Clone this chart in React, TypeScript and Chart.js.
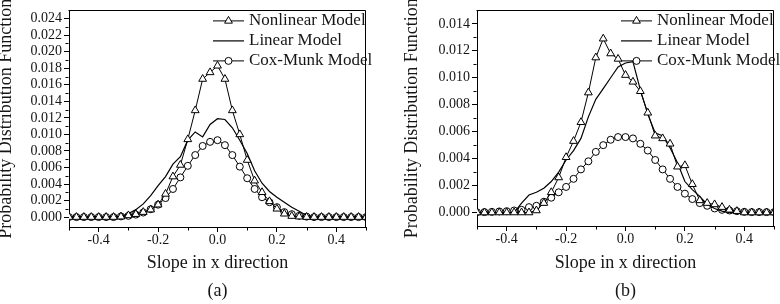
import React, { useEffect, useRef } from 'react';
import { Chart, registerables } from 'chart.js';

Chart.register(...registerables);

// ---------- data ----------
const slopes = [
  -0.5, -0.475, -0.45, -0.425, -0.4, -0.375, -0.35, -0.325, -0.3, -0.275,
  -0.25, -0.225, -0.2, -0.175, -0.15, -0.125, -0.1, -0.075, -0.05, -0.025,
  0, 0.025, 0.05, 0.075, 0.1, 0.125, 0.15, 0.175, 0.2, 0.225,
  0.25, 0.275, 0.3, 0.325, 0.35, 0.375, 0.4, 0.425, 0.45, 0.475, 0.5,
];

const seriesNames = ['Nonlinear Model', 'Linear Model', 'Cox-Munk Model'];

// panel (a)
const nonlinearA = [
  0, 0, 0, 0, 0, 0, 0, 0.00005, 0.0002, 0.00035,
  0.0006, 0.0009, 0.0015, 0.0028, 0.0049, 0.0063, 0.0094, 0.0129, 0.0167, 0.0175,
  0.0183, 0.0167, 0.0129, 0.0100, 0.0069, 0.0044, 0.0030, 0.0019, 0.0010, 0.0004,
  0.00012, 0.00005, 0, 0, 0, 0, 0, 0, 0, 0, 0,
];
const linearA = [
  0, 0, 0, 0, 0, 0, 0, 0.0001, 0.0004, 0.0009,
  0.0016, 0.0026, 0.0038, 0.0049, 0.0064, 0.0073, 0.0093, 0.0103, 0.0097, 0.0112,
  0.0119, 0.0118, 0.0108, 0.0093, 0.0077, 0.0056, 0.0041, 0.0031, 0.0024, 0.0018,
  0.0012, 0.0007, 0.0002, 0.00005, 0, 0, 0, 0, 0, 0, 0,
];
const coxMunkA = [
  0, 0, 0, 0, 0, 0, 0, 0.00008, 0.00015, 0.0003,
  0.00055, 0.00095, 0.0015, 0.0023, 0.0034, 0.0048, 0.0062, 0.0075, 0.0086, 0.0091,
  0.0093, 0.0087, 0.0075, 0.0061, 0.0047, 0.0034, 0.0024, 0.0018, 0.0012, 0.0006,
  0.00035, 0.00015, 0.00005, 0, 0, 0, 0, 0, 0, 0, 0,
];

// panel (b)
const nonlinearB = [
  0, 0, 0, 0, 0, 0, 0, 0, 0.00015, 0.0007,
  0.0015, 0.0026, 0.0041, 0.0053, 0.0067, 0.0089, 0.0115, 0.0129, 0.0118, 0.0114,
  0.0102, 0.0097, 0.0090, 0.0074, 0.0057, 0.0055, 0.0051, 0.0034, 0.0035, 0.0021,
  0.0009, 0.0007, 0.0006, 0.0004, 0.0002, 0.0001, 0, 0, 0, 0, 0,
];
const linearB = [
  0, 0, 0, 0, 0, 0, 0.0007, 0.0013, 0.0015, 0.0018,
  0.0023, 0.0030, 0.0039, 0.0046, 0.0055, 0.0071, 0.0084, 0.0092, 0.0100, 0.0108,
  0.0111, 0.0112, 0.0091, 0.0073, 0.0059, 0.0057, 0.0048, 0.0037, 0.0023, 0.0017,
  0.0012, 0.0006, 0.0003, 0.0001, 0, 0, 0, 0, 0, 0, 0,
];
const coxMunkB = [
  0.00002, 0.00003, 0.00005, 0.00008, 0.0001, 0.00015, 0.0002, 0.0004, 0.0005, 0.0008,
  0.0011, 0.0015, 0.0019, 0.0025, 0.0032, 0.0038, 0.0045, 0.0050, 0.0054, 0.0056,
  0.0056, 0.0055, 0.0051, 0.0046, 0.0039, 0.0032, 0.0025, 0.0019, 0.0014, 0.0010,
  0.0007, 0.0005, 0.0003, 0.0002, 0.00015, 0.0001, 0.00005, 0.00003, 0.00003, 0.00003, 0.00003,
];

// ticks
const xTickValues = [-0.4, -0.2, 0, 0.2, 0.4];
const xMinorTicks = [-0.5, -0.3, -0.1, 0.1, 0.3, 0.5];
const yTickValuesA = [0, 0.002, 0.004, 0.006, 0.008, 0.01, 0.012, 0.014, 0.016, 0.018, 0.02, 0.022, 0.024];
const yMinorTicksA = [0.001, 0.003, 0.005, 0.007, 0.009, 0.011, 0.013, 0.015, 0.017, 0.019, 0.021, 0.023];
const yTickValuesB = [0, 0.002, 0.004, 0.006, 0.008, 0.01, 0.012, 0.014];
const yMinorTicksB = [0.001, 0.003, 0.005, 0.007, 0.009, 0.011, 0.013];

const xTitle = 'Slope in x direction';
const yTitle = 'Probability Distribution Function';

const FONT = "'Liberation Serif', 'Times New Roman', serif";
const INK = '#151515';

type Panel = {
  nonlinear: number[];
  linear: number[];
  cox: number[];
  yTicks: number[];
  yMinor: number[];
  yMin: number;
  yMax: number;
  caption: string;
  yAxisWidth: number;
  rightPad: number;
  xAxisHeight: number;
  yTitlePad: number;
};

const panelA: Panel = {
  nonlinear: nonlinearA, linear: linearA, cox: coxMunkA,
  yTicks: yTickValuesA, yMinor: yMinorTicksA, yMin: -0.0012, yMax: 0.025,
  caption: '(a)', yAxisWidth: 69, rightPad: 24, xAxisHeight: 50, yTitlePad: -3.1,
};
const panelB: Panel = {
  nonlinear: nonlinearB, linear: linearB, cox: coxMunkB,
  yTicks: yTickValuesB, yMinor: yMinorTicksB, yMin: -0.001, yMax: 0.015,
  caption: '(b)', yAxisWidth: 87, rightPad: 6, xAxisHeight: 51, yTitlePad: 12.9,
};

function drawMarker(ctx: CanvasRenderingContext2D, style: string, x: number, y: number, r: number) {
  if (!r) return;
  ctx.beginPath();
  if (style === 'triangle') {
    let rad = 0;
    ctx.moveTo(x + Math.sin(rad) * r, y - Math.cos(rad) * r);
    rad += (2 * Math.PI) / 3;
    ctx.lineTo(x + Math.sin(rad) * r, y - Math.cos(rad) * r);
    rad += (2 * Math.PI) / 3;
    ctx.lineTo(x + Math.sin(rad) * r, y - Math.cos(rad) * r);
    ctx.closePath();
  } else {
    ctx.arc(x, y, r, 0, Math.PI * 2);
  }
  ctx.fillStyle = '#fff';
  ctx.fill();
  ctx.stroke();
}

const makeDecor = (panel: Panel) => ({
  id: 'decor',
  afterDraw(chart: any) {
    const ctx: CanvasRenderingContext2D = chart.ctx;
    const { left, right, top, bottom } = chart.chartArea;
    const xs = chart.scales.x;
    const ys = chart.scales.y;
    ctx.save();
    ctx.strokeStyle = '#000';
    ctx.lineWidth = 1;
    // top and right frame
    const t = Math.round(top) + 0.5;
    const r = Math.round(right) - 0.5;
    const b = Math.round(bottom) + 0.5;
    const l = Math.round(left) - 0.5;
    ctx.beginPath();
    ctx.moveTo(l, t);
    ctx.lineTo(r, t);
    ctx.lineTo(r, b);
    ctx.stroke();
    // minor ticks
    ctx.beginPath();
    xMinorTicks.forEach((v) => {
      const px = Math.round(xs.getPixelForValue(v)) + 0.5;
      ctx.moveTo(px, b);
      ctx.lineTo(px, b + 3);
    });
    panel.yMinor.forEach((v) => {
      const py = Math.round(ys.getPixelForValue(v)) + 0.5;
      ctx.moveTo(l, py);
      ctx.lineTo(l - 3, py);
    });
    ctx.stroke();
    // legend
    const x0 = right - 153;
    const x1 = right - 122;
    const tx = right - 117;
    ctx.font = `17px ${FONT}`;
    ctx.textBaseline = 'middle';
    ctx.textAlign = 'left';
    chart.data.datasets.forEach((ds: any, i: number) => {
      const y = top + 10 + i * 20;
      ctx.strokeStyle = '#000';
      ctx.lineWidth = ds.borderWidth || 1;
      ctx.beginPath();
      ctx.moveTo(x0, y + 0.5);
      ctx.lineTo(x1, y + 0.5);
      ctx.stroke();
      ctx.lineWidth = 1;
      drawMarker(ctx, ds.pointStyle, (x0 + x1) / 2, y + 0.5, ds.pointRadius);
      ctx.fillStyle = INK;
      ctx.fillText(ds.label, tx, y);
    });
    // caption
    ctx.textAlign = 'center';
    ctx.fillStyle = INK;
    ctx.font = `18px ${FONT}`;
    ctx.fillText(panel.caption, (left + right) / 2, 291);
    ctx.restore();
  },
});

function PanelChart({ panel, offsetLeft }: { panel: Panel; offsetLeft: number }) {
  const ref = useRef<HTMLCanvasElement | null>(null);
  useEffect(() => {
    if (!ref.current) return;
    const toPts = (arr: number[]) => slopes.map((x, i) => ({ x, y: arr[i] }));
    const chart = new Chart(ref.current, {
      type: 'line',
      data: {
        datasets: [
          {
            label: seriesNames[0],
            data: toPts(panel.nonlinear),
            borderColor: '#000',
            borderWidth: 1,
            pointStyle: 'triangle',
            pointRadius: 4.5,
            pointBorderWidth: 1,
            pointBorderColor: '#000',
            pointBackgroundColor: '#fff',
            tension: 0,
          },
          {
            label: seriesNames[1],
            data: toPts(panel.linear),
            borderColor: '#000',
            borderWidth: 1.2,
            pointRadius: 0,
            tension: 0,
          },
          {
            label: seriesNames[2],
            data: toPts(panel.cox),
            borderColor: '#000',
            borderWidth: 1,
            pointStyle: 'circle',
            pointRadius: 3.5,
            pointBorderWidth: 1,
            pointBorderColor: '#000',
            pointBackgroundColor: '#fff',
            tension: 0,
          },
        ] as any,
      },
      options: {
        animation: false,
        responsive: false,
        devicePixelRatio: 1,
        events: [],
        layout: { padding: { left: 0, right: panel.rightPad, top: 5, bottom: 27 } },
        plugins: {
          legend: { display: false },
          tooltip: { enabled: false },
        },
        scales: {
          x: {
            type: 'linear',
            min: -0.5,
            max: 0.5,
            afterBuildTicks: (scale: any) => {
              scale.ticks = xTickValues.map((v) => ({ value: v }));
            },
            afterFit: (scale: any) => {
              scale.height = panel.xAxisHeight;
            },
            ticks: {
              color: INK,
              font: { family: FONT, size: 14 },
              padding: 0,
              maxRotation: 0,
              autoSkip: false,
              callback: (v: any) => Number(v).toFixed(1),
            },
            grid: {
              display: true,
              drawOnChartArea: false,
              drawTicks: true,
              tickLength: 5,
              tickColor: '#000',
              tickWidth: 1,
            },
            border: { display: true, color: '#000', width: 1 },
            title: {
              display: true,
              text: xTitle,
              color: INK,
              font: { family: FONT, size: 18, lineHeight: 1 },
              padding: { top: 0, bottom: 5 },
            },
          },
          y: {
            type: 'linear',
            min: panel.yMin,
            max: panel.yMax,
            afterBuildTicks: (scale: any) => {
              scale.ticks = panel.yTicks.map((v) => ({ value: v }));
            },
            afterFit: (scale: any) => {
              scale.width = panel.yAxisWidth;
            },
            ticks: {
              color: INK,
              font: { family: FONT, size: 14 },
              padding: 2,
              autoSkip: false,
              callback: (v: any) => Number(v).toFixed(3),
            },
            grid: {
              display: true,
              drawOnChartArea: false,
              drawTicks: true,
              tickLength: 5,
              tickColor: '#000',
              tickWidth: 1,
            },
            border: { display: true, color: '#000', width: 1 },
            title: {
              display: true,
              text: yTitle,
              color: INK,
              font: { family: FONT, size: 18, lineHeight: 1 },
              padding: { top: panel.yTitlePad, bottom: 0 },
            },
          },
        },
      } as any,
      plugins: [makeDecor(panel)],
    });
    return () => chart.destroy();
  }, [panel]);
  return (
    <div style={{ position: 'absolute', left: offsetLeft, top: 0, width: 390, height: 304 }}>
      <canvas ref={ref} width={390} height={304} style={{ display: 'block', width: 390, height: 304 }} />
    </div>
  );
}

export default function App() {
  return (
    <div
      style={{
        position: 'fixed',
        left: 0,
        top: 0,
        width: 780,
        height: 304,
        background: '#fff',
        overflow: 'hidden',
      }}
    >
      <PanelChart panel={panelA} offsetLeft={0} />
      <PanelChart panel={panelB} offsetLeft={390} />
    </div>
  );
}
